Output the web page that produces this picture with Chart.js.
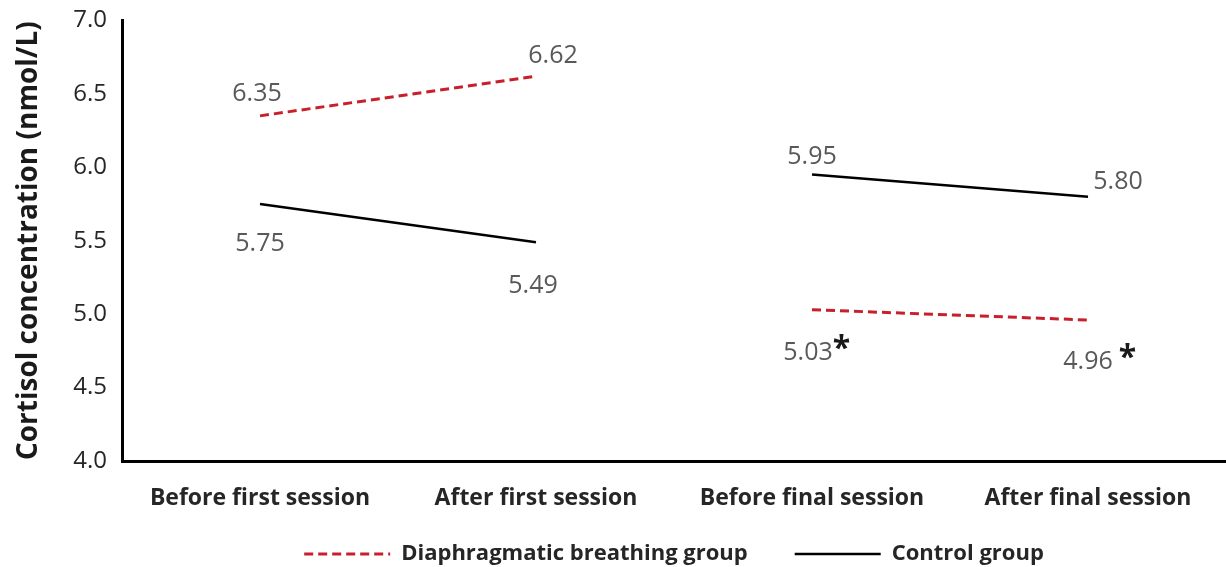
<!DOCTYPE html>
<html>
<head>
<meta charset="utf-8">
<script src="https://cdn.jsdelivr.net/npm/chart.js@4"></script>
<style>
  html, body { margin: 0; padding: 0; background: #fff; }
  #wrap { width: 1226px; height: 567px; }
</style>
</head>
<body>
<div id="wrap"><canvas id="chart"></canvas></div>
<script>
// Categories and values
const sessions = ["Before first session", "After first session", "Before final session", "After final session"];
const breathingGroup = [6.35, 6.62, 5.03, 4.96];
const controlGroup = [5.75, 5.49, 5.95, 5.80];
const significant = [false, false, true, true]; // asterisk marks on breathing group

// label placement relative to the point (text centre), per point
const breathingOffsets = [[-3, -22], [17, -20], [-4, 43], [0, 42]];
const controlOffsets = [[0, 40], [-3, 44], [0, -18], [30, -15]];

// no line joining first-session and final-session points
const hideGap = ctx => (ctx.p0DataIndex === 1 ? "rgba(0,0,0,0)" : undefined);

const valueLabels = {
  id: "valueLabels",
  afterDatasetsDraw(chart) {
    const ctx = chart.ctx;
    const sets = [
      { idx: 0, offs: breathingOffsets, stars: significant },
      { idx: 1, offs: controlOffsets, stars: [false, false, false, false] },
    ];
    ctx.save();
    ctx.textBaseline = "middle";
    sets.forEach(s => {
      const meta = chart.getDatasetMeta(s.idx);
      const data = chart.data.datasets[s.idx].data;
      meta.data.forEach((pt, i) => {
        const txt = data[i].toFixed(2);
        const x = pt.x + s.offs[i][0];
        const y = pt.y + s.offs[i][1];
        ctx.font = "25px 'Open Sans'";
        ctx.fillStyle = "#595959";
        ctx.textAlign = "center";
        ctx.fillText(txt, x, y);
        if (s.stars[i]) {
          const w = ctx.measureText(txt).width;
          ctx.font = "bold 32px 'Open Sans'";
          ctx.fillStyle = "#1a1a1a";
          ctx.textAlign = "left";
          ctx.fillText("*", x + w / 2 + (i === 3 ? 6 : 0), y - 3);
        }
      });
    });
    ctx.restore();
  }
};

new Chart(document.getElementById("chart"), {
  type: "line",
  data: {
    labels: sessions,
    datasets: [
      {
        label: "Diaphragmatic breathing group",
        data: breathingGroup,
        borderColor: "#c8202b",
        borderWidth: 3,
        borderDash: [9, 5],
        pointRadius: 0,
        tension: 0,
        segment: { borderColor: hideGap },
      },
      {
        label: "Control group",
        data: controlGroup,
        borderColor: "#000000",
        borderWidth: 2.5,
        pointRadius: 0,
        tension: 0,
        segment: { borderColor: hideGap },
      },
    ],
  },
  options: {
    responsive: true,
    maintainAspectRatio: false,
    animation: false,
    layout: { padding: { top: 16, right: 0, left: 0, bottom: -8 } },
    plugins: {
      tooltip: { enabled: false },
      legend: {
        position: "bottom",
        fullSize: false,
        labels: {
          usePointStyle: true,
          pointStyle: "line",
          pointStyleWidth: 86,
          padding: 3,
          color: "#262626",
          font: { family: "Open Sans", weight: "bold", size: 22 },
          generateLabels: chart => {
            const items = Chart.defaults.plugins.legend.labels.generateLabels(chart);
            items.forEach((it, i) => {
              it.lineDash = chart.data.datasets[it.datasetIndex].borderDash || [];
              if (i === 0) it.text += "\u2003\u2003"; // gap before the next entry
            });
            return items;
          },
        },
      },
    },
    scales: {
      x: {
        offset: true,
        afterFit: s => { s.height = 79; },
        grid: { display: false, drawTicks: false },
        border: { color: "#000", width: 3 },
        ticks: {
          color: "#262626",
          padding: 24,
          font: { family: "Open Sans", weight: "bold", size: 23 },
        },
      },
      y: {
        min: 4,
        max: 7,
        afterFit: s => { s.width = 122; },
        grid: { display: false, drawTicks: true, tickLength: 9, tickColor: "#000", tickWidth: 2 },
        border: { color: "#000", width: 3 },
        ticks: {
          stepSize: 0.5,
          color: "#262626",
          padding: 6,
          font: { family: "Open Sans", size: 24 },
          callback: v => v.toFixed(1),
        },
        title: {
          display: true,
          text: "Cortisol concentration (nmol/L)",
          color: "#1a1a1a",
          padding: { top: 12, bottom: 2 },
          font: { family: "Open Sans", weight: "bold", size: 28 },
        },
      },
    },
  },
  plugins: [valueLabels],
});
</script>
</body>
</html>
